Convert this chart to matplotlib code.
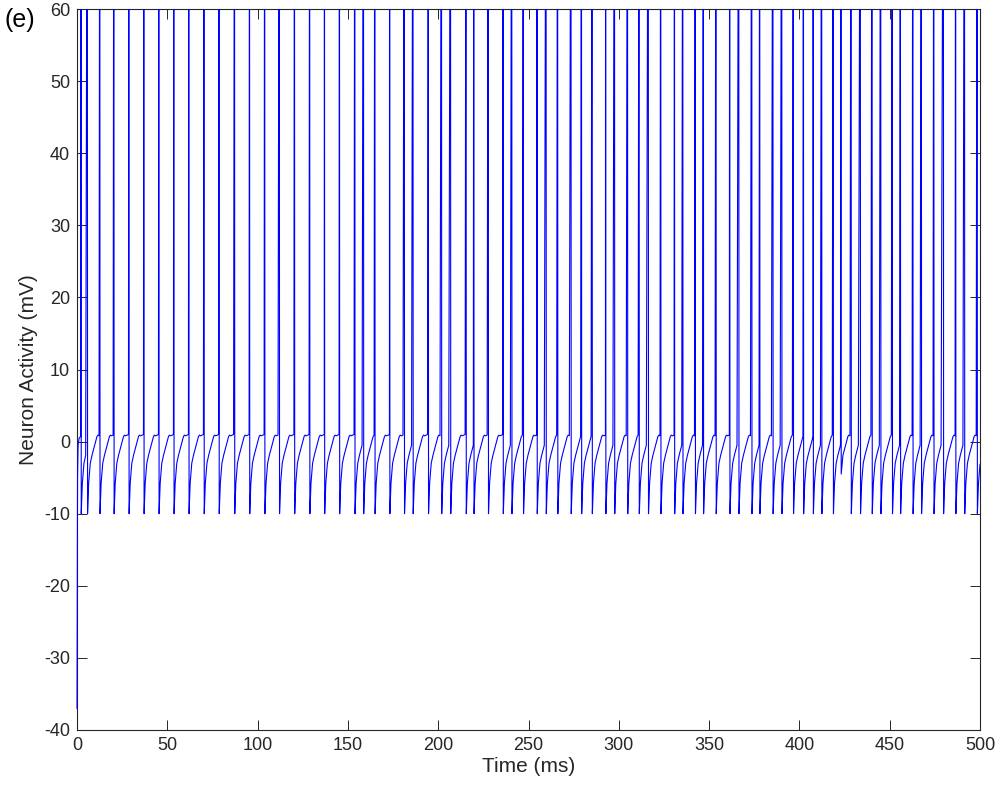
import numpy as np
import matplotlib
matplotlib.use('Agg')
import matplotlib.pyplot as plt

# spike times (ms)
spike_times = [2.2, 5.7, 12.6, 20.4, 28.7, 37.0, 45.3, 53.6, 61.9, 70.3,
               78.6, 87.2, 95.5, 103.9, 112.0, 120.4, 128.8, 137.0, 145.3,
               153.8, 158.6, 164.9, 173.1, 181.2, 186.0, 194.5, 201.8, 206.8,
               215.4, 219.7, 227.7, 235.9, 240.7, 247.1, 254.7, 259.7, 266.1,
               273.5, 279.3, 285.2, 292.7, 297.6, 304.8, 311.2, 316.3, 323.2,
               330.8, 335.4, 342.3, 346.8, 353.8, 361.4, 366.4, 373.6, 378.0,
               385.3, 390.2, 396.6, 402.2, 407.6, 412.3, 418.7, 423.0, 428.6,
               433.7, 440.2, 445.0, 451.4, 455.9, 462.8, 467.5, 474.4, 479.7,
               486.5, 491.4, 498.4]
# value right after each spike (mV)
reset_values = [-10.0] * len(spike_times)
reset_values[spike_times.index(423.0)] = -4.5

# recovery after reset, read from one full inter-spike interval
recov_t = [0.15, 0.75, 1.65, 2.6, 4.05, 5.35, 5.9, 6.5, 7.4, 8.1, 9.5, 12.0]
recov_v = [-10.0, -5.8, -3.0, -1.9, -0.5, 0.7, 0.9, 0.8, 0.9, 1.0, 1.0, 1.0]

# start of the trace before the first spike
start_t = [0.0, 0.3, 0.6, 1.2, 2.0]
start_v = [-37.0, -5.0, -0.5, 0.5, 0.7]

peak = 100.0
t_end = 500.0


def build_trace():
    t = [start_t[-1]]
    v = [start_v[-1]]
    for i, s in enumerate(spike_times):
        nxt = spike_times[i + 1] if i + 1 < len(spike_times) else t_end
        t.append(s)
        v.append(peak)
        r = reset_values[i]
        # skip the part of the recovery that lies below a shallow reset
        k0 = next(k for k, val in enumerate(recov_v) if val >= r)
        shift = recov_t[k0] - recov_t[0]
        t.append(s + recov_t[0])
        v.append(r)
        for tt, vv in zip(recov_t[k0 + 1:], recov_v[k0 + 1:]):
            if s + tt - shift >= nxt:
                break
            t.append(s + tt - shift)
            v.append(vv)
    # finish at the right edge, still recovering
    t.append(t_end)
    v.append(np.interp(t_end - spike_times[-1], recov_t, recov_v))
    return np.array(t), np.array(v)


def main():
    plt.rcParams['font.family'] = ['Liberation Sans', 'DejaVu Sans']
    plt.rcParams['axes.unicode_minus'] = False
    fig = plt.figure(figsize=(9.99, 7.87), dpi=100)
    ax = fig.add_axes([77 / 999, 1 - 730 / 787, 903 / 999, 721 / 787])

    t, v = build_trace()
    # the start lies on the left edge, so it is drawn unclipped
    ax.plot(start_t, start_v, color='#0000ff', lw=0.8, zorder=3,
            clip_on=False)
    ax.plot(t, v, color='#0000ff', lw=0.8, zorder=3)

    ax.set_xlim(0, 500)
    ax.set_ylim(-40, 60)
    ax.set_xticks(np.arange(0, 501, 50))
    ax.set_yticks(np.arange(-40, 61, 10))
    ax.tick_params(direction='in', length=7, width=0.7, colors='#262626',
                   labelsize=13, top=True, right=True, pad=5)
    for sp in ax.spines.values():
        sp.set_color('#262626')
        sp.set_linewidth(0.8)
    ax.set_xlabel('Time (ms)', fontsize=15, color='#262626', labelpad=2)
    ax.set_ylabel('Neuron Activity (mV)', fontsize=15, color='#262626',
                  labelpad=4)
    fig.text(5 / 999, 1 - 20 / 787, '(e)', fontsize=18, va='center',
             ha='left')

    fig.savefig('out.png', dpi=100)


if __name__ == '__main__':
    main()
